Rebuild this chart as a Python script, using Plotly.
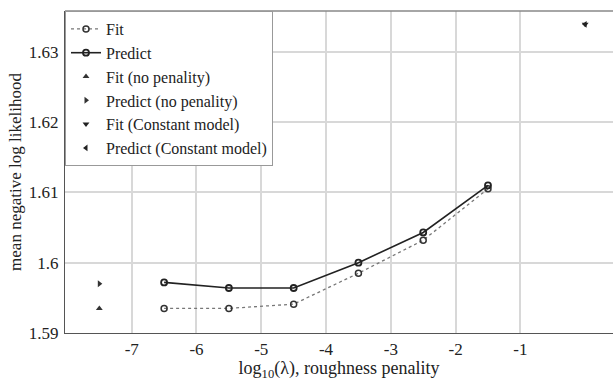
import plotly.graph_objects as go

# Penalised fits: log10(lambda) grid and mean negative log likelihood
log_lambda = [-6.5, -5.5, -4.5, -3.5, -2.5, -1.5]
fit_nll = [1.5935, 1.5935, 1.5941, 1.5985, 1.6032, 1.6105]
predict_nll = [1.5972, 1.5964, 1.5964, 1.6000, 1.6043, 1.6110]

# Unpenalised model, drawn left of the grid
nopen_x = [-7.5]
fit_nopen = [1.5935]
predict_nopen = [1.5970]

# Constant model, drawn at the right end
const_x = [0.0]
fit_const = [1.6339]
predict_const = [1.6339]

FONT = "Liberation Serif"

fig = go.Figure()
fig.add_trace(go.Scatter(
    x=log_lambda, y=fit_nll, name="Fit", mode="lines+markers",
    line=dict(color="#777777", width=1.3, dash="dot"),
    marker=dict(symbol="circle-open", size=6, color="#333333", line=dict(width=1.5)),
))
fig.add_trace(go.Scatter(
    x=log_lambda, y=predict_nll, name="Predict", mode="lines+markers",
    line=dict(color="#222222", width=1.6),
    marker=dict(symbol="circle-open", size=6, color="#222222", line=dict(width=1.8)),
))
fig.add_trace(go.Scatter(
    x=nopen_x, y=fit_nopen, name="Fit (no penality)", mode="markers",
    marker=dict(symbol="triangle-up", size=6, color="#333333"),
))
fig.add_trace(go.Scatter(
    x=nopen_x, y=predict_nopen, name="Predict (no penality)", mode="markers",
    marker=dict(symbol="triangle-right", size=6, color="#333333"),
))
fig.add_trace(go.Scatter(
    x=const_x, y=fit_const, name="Fit (Constant model)", mode="markers",
    marker=dict(symbol="triangle-down", size=6, color="#222222"),
))
fig.add_trace(go.Scatter(
    x=const_x, y=predict_const, name="Predict (Constant model)", mode="markers",
    marker=dict(symbol="triangle-left", size=6, color="#222222"),
))

fig.update_layout(
    width=613, height=381,
    margin=dict(l=65, r=0, t=11, b=48),
    paper_bgcolor="white", plot_bgcolor="white",
    font=dict(family=FONT, size=17, color="#222222"),
    showlegend=True,
    legend=dict(
        x=0.0, y=1.0, xanchor="left", yanchor="top",
        bgcolor="white", bordercolor="#999999", borderwidth=1,
        font=dict(family=FONT, size=16, color="#222222"),
        tracegroupgap=0, itemwidth=30,
    ),
    xaxis=dict(
        range=[-8.03, 0.43], tickvals=[-7, -6, -5, -4, -3, -2, -1],
        ticktext=["-7", "-6", "-5", "-4", "-3", "-2", "-1"],
        showgrid=True, gridcolor="#d8d8d8", gridwidth=1.5,
        zeroline=False, showline=True, linecolor="#555555", linewidth=1,
        ticks="", ticklabelstandoff=1,
        title=dict(text="log<sub>10</sub>(λ), roughness penality", standoff=0,
                   font=dict(family=FONT, size=18)),
    ),
    yaxis=dict(
        range=[1.59, 1.6358], tickvals=[1.59, 1.6, 1.61, 1.62, 1.63],
        ticktext=["1.59", "1.6", "1.61", "1.62", "1.63"],
        showgrid=True, gridcolor="#d8d8d8", gridwidth=1.5,
        zeroline=False, showline=True, linecolor="#555555", linewidth=1,
        ticks="", ticklabelstandoff=2,
        title=dict(text="mean negative log likelihood", standoff=2,
                   font=dict(family=FONT, size=17)),
    ),
)
# top border of the plot area
fig.add_shape(type="line", xref="paper", yref="paper", x0=0, x1=1, y0=1, y1=1,
              line=dict(color="#888888", width=1.5))

fig.write_html("out.html")
